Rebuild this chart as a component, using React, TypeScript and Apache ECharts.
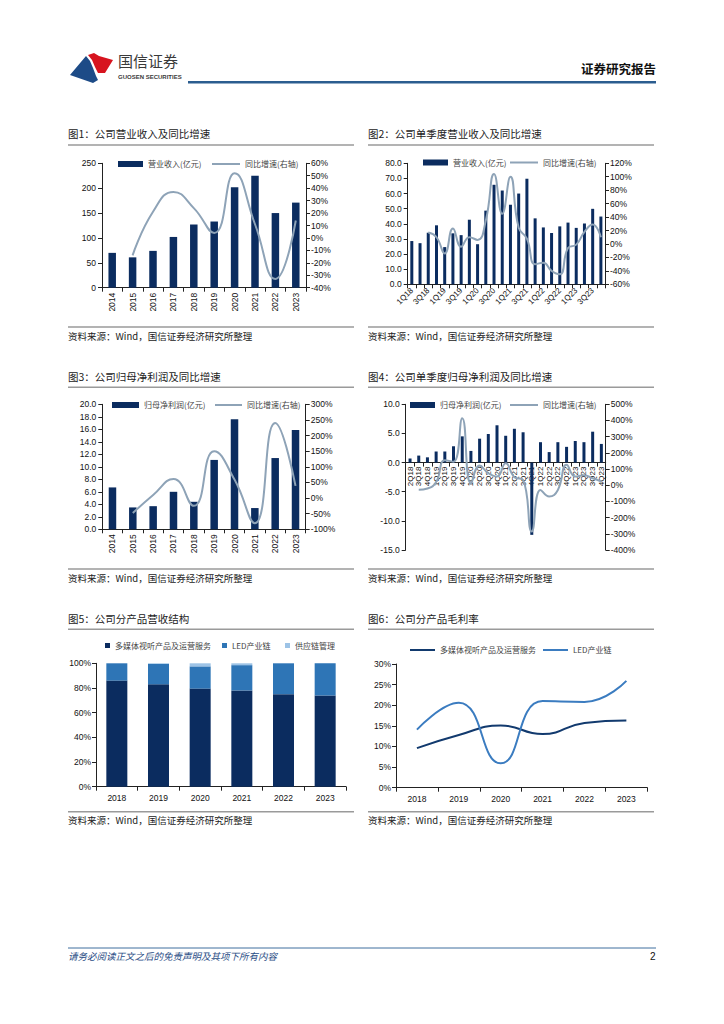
import React, { useEffect, useRef } from "react";
import * as echarts from "echarts";

// ---------- data ----------
const years14 = ["2014", "2015", "2016", "2017", "2018", "2019", "2020", "2021", "2022", "2023"];
const revenue = [70, 61, 74, 102, 127, 133, 202, 225, 150, 171];
const revenueYoY = [null, -14, 21, 37, 24, 4, 52, 11, -33, 14];

const quarters24 = [
  "1Q18", "2Q18", "3Q18", "4Q18", "1Q19", "2Q19", "3Q19", "4Q19",
  "1Q20", "2Q20", "3Q20", "4Q20", "1Q21", "2Q21", "3Q21", "4Q21",
  "1Q22", "2Q22", "3Q22", "4Q22", "1Q23", "2Q23", "3Q23", "4Q23",
];
const qRevenue = [28.6, 27.2, 34.1, 39.0, 24.6, 33.7, 32.5, 42.7, 26.5, 48.7, 65.8, 62.0, 52.6, 60.0, 69.8, 43.6, 37.6, 33.9, 38.3, 40.8, 37.3, 40.2, 49.9, 44.8];
const qRevenueYoY = [null, null, 17, 10, -14, 23, -4, 10, 6, 35, 104, 45, 100, 24, 8, -30, -28, -40, -45, -6, -1, 18, 29, 10];

const profit = [6.7, 3.5, 3.7, 6.0, 4.4, 11.1, 17.6, 3.4, 11.4, 15.9];
const profitYoY = [null, -48, 10, 61, -25, 150, 59, -81, 240, 39];

const quarters23 = [
  "2Q18", "3Q18", "4Q18", "1Q19", "2Q19", "3Q19", "4Q19",
  "1Q20", "2Q20", "3Q20", "4Q20", "1Q21", "2Q21", "3Q21", "4Q21",
  "1Q22", "2Q22", "3Q22", "4Q22", "1Q23", "2Q23", "3Q23", "4Q23",
];
const qProfit = [0.7, 1.2, 0.9, 1.9, 1.9, 2.8, 4.5, 2.0, 4.1, 4.9, 6.4, 4.6, 5.8, 5.2, -12.4, 3.5, 1.8, 3.5, 2.7, 3.7, 3.5, 5.3, 3.2];
const qProfitYoY = [null, -28, -20, 20, 155, 145, 414, 10, 122, 74, 54, 136, 50, 33, -286, -29, -70, -29, 126, 54, 62, 43, 23];

const years18 = ["2018", "2019", "2020", "2021", "2022", "2023"];
const mixMultimedia = [86, 83, 79.5, 78, 75, 74];
const mixLed = [14, 16.5, 18, 20.5, 25, 26];
const mixSupply = [0, 0.5, 2.5, 1.5, 0, 0];

const marginMultimedia = [9.6, 12.8, 15.1, 13.0, 15.7, 16.3];
const marginLed = [14.1, 20.6, 5.9, 21.0, 20.8, 25.9];

// ---------- styles ----------
const NUM = "Liberation Sans, Arial, sans-serif";
const CJK = "Noto Sans CJK SC, sans-serif";
const NAVY = "#0b2c5f";
const GREYLINE = "#8ea3b7";
const MID = "#2e75b6";
const LIGHT = "#9dc3e6";
const AX = "#222";
const SOURCE = "资料来源：Wind，国信证券经济研究所整理";

function chrome(title: string, ty: number, ly: number, sly: number, sy: number) {
  return [
    { type: "text", left: 8, top: ty - 7, style: { text: title, fontSize: 10.5, fontFamily: CJK, fill: "#222" } },
    { type: "line", shape: { x1: 8, y1: ly, x2: 294, y2: ly }, style: { stroke: "#9a9a9a", lineWidth: 1.5 } },
    { type: "line", shape: { x1: 8, y1: sly, x2: 294, y2: sly }, style: { stroke: "#9a9a9a", lineWidth: 1.5 } },
    { type: "text", left: 8, top: sy - 6.5, style: { text: SOURCE, fontSize: 9.5, fontFamily: CJK, fill: "#222" } },
  ];
}

function legendItem(name: string, left: number, top: number, w: number, h: number, icon = "rect") {
  return {
    left, top, itemWidth: w, itemHeight: h, padding: 0, itemGap: 0, icon,
    data: [name], selectedMode: false,
    textStyle: { fontSize: 8, fontFamily: CJK, color: "#444" },
  };
}

function valueAxis(min: number, max: number, interval: number, pos: string, fmt: (v: number) => string, margin = 6) {
  return {
    type: "value", min, max, interval, position: pos,
    axisLine: { show: true, lineStyle: { color: AX, width: 1 } },
    axisTick: { show: true, length: 4, lineStyle: { color: AX } },
    splitLine: { show: false },
    axisLabel: { fontSize: 8.5, fontFamily: NUM, color: "#111", margin, formatter: fmt },
  };
}

const pct = (v: number) => v + "%";
const f1 = (v: number) => v.toFixed(1);
const f0 = (v: number) => String(v);

function catAxis(data: string[], rotate: number, interval: number, margin: number, fontSize = 8.5) {
  return {
    type: "category", data,
    axisLine: { onZero: false, lineStyle: { color: AX, width: 1 } },
    axisTick: { show: true, length: 4, interval: 0, lineStyle: { color: AX } },
    axisLabel: { rotate, interval, fontSize, fontFamily: NUM, color: "#111", margin },
  };
}

const lineSeries = (name: string, data: any[]) => ({
  type: "line", name, yAxisIndex: 1, data, smooth: 0.5, symbol: "none", connectNulls: false,
  lineStyle: { color: GREYLINE, width: 2 }, itemStyle: { color: GREYLINE },
});

const opt1 = {
  animation: false,
  graphic: chrome("图1：公司营业收入及同比增速", 15, 25, 207, 218),
  legend: [legendItem("营业收入(亿元)", 58, 40, 25, 6), legendItem("同比增速(右轴)", 152, 40, 28, 2)],
  grid: { left: 42, right: 54, top: 43.3, bottom: 62.3 },
  xAxis: catAxis(years14, 90, 0, 5),
  yAxis: [valueAxis(0, 250, 50, "left", f0), valueAxis(-40, 60, 10, "right", pct, 5)],
  series: [
    { type: "bar", name: "营业收入(亿元)", data: revenue, barWidth: 7.5, itemStyle: { color: NAVY } },
    lineSeries("同比增速(右轴)", revenueYoY),
  ],
};

const opt2 = {
  animation: false,
  graphic: chrome("图2：公司单季度营业收入及同比增速", 15, 25, 207, 218),
  legend: [legendItem("营业收入(亿元)", 63, 38.5, 25, 6), legendItem("同比增速(右轴)", 150, 38.5, 28, 2)],
  grid: { left: 47.7, right: 55, top: 43.3, bottom: 65.7 },
  xAxis: catAxis(quarters24, 45, 1, 5, 8),
  yAxis: [valueAxis(0, 80, 10, "left", f1), valueAxis(-60, 120, 20, "right", pct, 5)],
  series: [
    { type: "bar", name: "营业收入(亿元)", data: qRevenue, barWidth: 3, itemStyle: { color: NAVY } },
    lineSeries("同比增速(右轴)", qRevenueYoY),
  ],
};

const opt3 = {
  animation: false,
  graphic: chrome("图3：公司归母净利润及同比增速", 13.3, 22.3, 204, 215),
  legend: [legendItem("归母净利润(亿元)", 52, 36, 27, 6), legendItem("同比增速(右轴)", 155, 36, 27, 2)],
  grid: { left: 42.3, right: 54.3, top: 39.3, bottom: 65.7 },
  xAxis: catAxis(years14, 90, 0, 5),
  yAxis: [valueAxis(0, 20, 2, "left", f1), valueAxis(-100, 300, 50, "right", pct, 5)],
  series: [
    { type: "bar", name: "归母净利润(亿元)", data: profit, barWidth: 7.5, itemStyle: { color: NAVY } },
    lineSeries("同比增速(右轴)", profitYoY),
  ],
};

// chart 4: category axis sits at the zero of the left value axis
const G4 = { left: 45.7, right: 54.3, top: 39.3, bottom: 45 };
const Y4MIN = -15;
const Y4MAX = 10;
const g4Height = 230 - G4.top - G4.bottom;
const x4 = catAxis(quarters23, 90, 0, 4, 8) as any;
x4.offset = -(g4Height * (0 - Y4MIN)) / (Y4MAX - Y4MIN);
const opt4 = {
  animation: false,
  graphic: chrome("图4：公司单季度归母净利润及同比增速", 13.3, 22.3, 204, 215),
  legend: [legendItem("归母净利润(亿元)", 50, 36, 25, 6), legendItem("同比增速(右轴)", 150, 36, 28, 2)],
  grid: G4,
  xAxis: x4,
  yAxis: [valueAxis(Y4MIN, Y4MAX, 5, "left", f1), valueAxis(-400, 500, 100, "right", pct, 5)],
  series: [
    { type: "bar", name: "归母净利润(亿元)", data: qProfit, barWidth: 3, itemStyle: { color: NAVY } },
    lineSeries("同比增速(右轴)", qProfitYoY),
  ],
};

const legend5 = (name: string, left: number) => legendItem(name, left, 36.5, 5, 5);

const opt5 = {
  animation: false,
  graphic: chrome("图5：公司分产品营收结构", 15, 24.3, 206.7, 217),
  legend: [legend5("多媒体视听产品及运营服务", 45), legend5("LED产业链", 162), legend5("供应链管理", 225)],
  grid: { left: 36, right: 14, top: 58.3, bottom: 48.3 },
  xAxis: catAxis(years18, 0, 0, 7),
  yAxis: valueAxis(0, 100, 20, "left", pct, 5),
  series: [
    { type: "bar", name: "多媒体视听产品及运营服务", stack: "a", data: mixMultimedia, barWidth: 21, itemStyle: { color: NAVY } },
    { type: "bar", name: "LED产业链", stack: "a", data: mixLed, barWidth: 21, itemStyle: { color: MID } },
    { type: "bar", name: "供应链管理", stack: "a", data: mixSupply, barWidth: 21, itemStyle: { color: LIGHT } },
  ],
};

const legend6 = (name: string, left: number) => legendItem(name, left, 41, 25, 2);

const opt6 = {
  animation: false,
  graphic: chrome("图6：公司分产品毛利率", 15, 24.3, 206.7, 217),
  legend: [legend6("多媒体视听产品及运营服务", 50), legend6("LED产业链", 183)],
  grid: { left: 36, right: 12.7, top: 59, bottom: 47.3 },
  xAxis: catAxis(years18, 0, 0, 7),
  yAxis: valueAxis(0, 30, 5, "left", pct, 5),
  series: [
    { type: "line", name: "多媒体视听产品及运营服务", data: marginMultimedia, smooth: 0.5, symbol: "none", lineStyle: { color: "#123a6e", width: 2 }, itemStyle: { color: "#123a6e" } },
    { type: "line", name: "LED产业链", data: marginLed, smooth: 0.5, symbol: "none", lineStyle: { color: "#3b7cc0", width: 2 }, itemStyle: { color: "#3b7cc0" } },
  ],
};

const pageOpt = {
  animation: false,
  graphic: [
    { type: "polygon", shape: { points: [[70, 75], [86, 56], [90, 61], [93, 68], [96, 76], [98, 80], [93, 83]] }, style: { fill: "#1d4b87" } },
    { type: "polygon", shape: { points: [[88, 55], [94, 53], [99, 56], [113, 60], [105, 73], [98, 73], [95, 67], [92, 60]] }, style: { fill: "#d7141f" } },
    { type: "text", left: 118, top: 53, style: { text: "国信证券", fontSize: 15, fontFamily: CJK, fill: "#3a3a3a" } },
    { type: "text", left: 118, top: 74, style: { text: "GUOSEN SECURITIES", fontSize: 6, fontWeight: "bold", fontFamily: NUM, fill: "#3a3a3a" } },
    { type: "text", right: 68, top: 62, style: { text: "证券研究报告", fontSize: 12.5, fontWeight: "bold", fontFamily: CJK, fill: "#111" } },
    { type: "rect", shape: { x: 188, y: 81, width: 468, height: 2.5 }, style: { fill: "#2b5d8f" } },
    { type: "line", shape: { x1: 68, y1: 948, x2: 656, y2: 948 }, style: { stroke: "#3f6e9e", lineWidth: 1 } },
    { type: "text", left: 68, top: 951, style: { text: "请务必阅读正文之后的免责声明及其项下所有内容", fontSize: 9.5, fontStyle: "italic", fontFamily: CJK, fill: "#2a4d85" } },
    { type: "text", left: 650, top: 951, style: { text: "2", fontSize: 10, fontFamily: NUM, fill: "#111" } },
  ],
};

function Chart({ x, y, w, h, option }: { x: number; y: number; w: number; h: number; option: any }) {
  const ref = useRef<HTMLDivElement>(null);
  useEffect(() => {
    const c = echarts.init(ref.current!, null, { renderer: "svg" });
    c.setOption(option);
    return () => c.dispose();
  }, []);
  return <div ref={ref} style={{ position: "absolute", left: x, top: y, width: w, height: h }} />;
}

export default function App() {
  useEffect(() => {
    document.body.style.margin = "0";
  }, []);
  return (
    <div style={{ position: "relative", width: 724, height: 1024, background: "#fff", overflow: "hidden" }}>
      <Chart x={0} y={0} w={724} h={1024} option={pageOpt} />
      <Chart x={60} y={120} w={300} h={230} option={opt1} />
      <Chart x={360} y={120} w={300} h={230} option={opt2} />
      <Chart x={60} y={365} w={300} h={230} option={opt3} />
      <Chart x={360} y={365} w={300} h={230} option={opt4} />
      <Chart x={60} y={605} w={300} h={230} option={opt5} />
      <Chart x={360} y={605} w={300} h={230} option={opt6} />
    </div>
  );
}
